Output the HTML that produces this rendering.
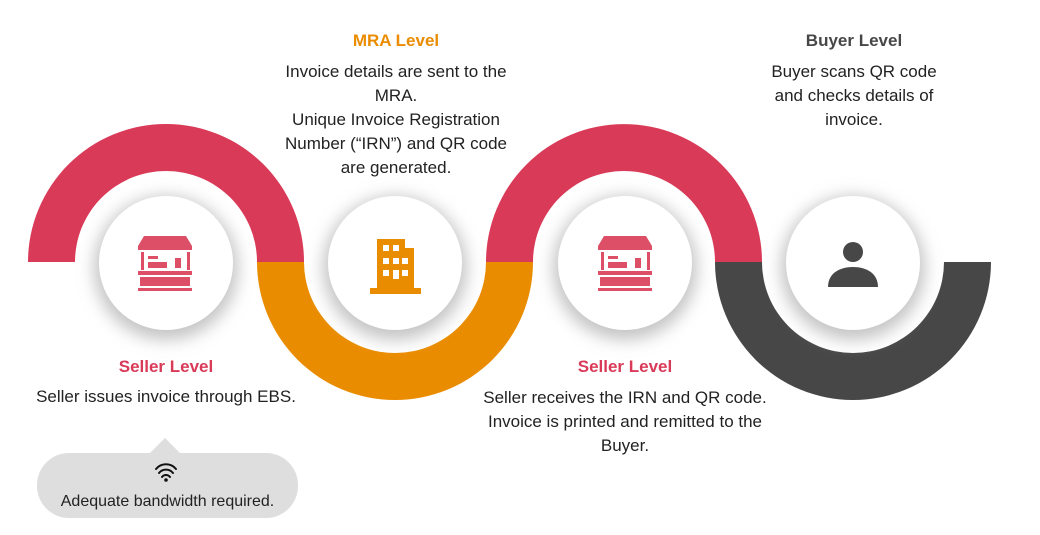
<!DOCTYPE html>
<html><head><meta charset="utf-8"><style>
html,body{margin:0;padding:0;background:#fff;}
body{width:1040px;height:535px;position:relative;overflow:hidden;font-family:"Liberation Sans",Arial,sans-serif;}
.t{position:absolute;text-align:center;font-size:17px;line-height:24px;color:#222;white-space:nowrap;}
.h{font-weight:bold;font-size:17px;}
</style></head><body>
<svg width="1040" height="535" style="position:absolute;left:0;top:0">
<defs>
<filter id="sh" x="-40%" y="-40%" width="180%" height="180%"><feGaussianBlur stdDeviation="8"/></filter>
</defs>
<path d="M28,262 A138,138 0 0 1 304,262 L257,262 A91,91 0 0 0 75,262 Z" fill="#d93a58"/>
<path d="M257,262 A138,138 0 0 0 533,262 L486,262 A91,91 0 0 1 304,262 Z" fill="#ea8c00"/>
<path d="M486,262 A138,138 0 0 1 762,262 L715,262 A91,91 0 0 0 533,262 Z" fill="#d93a58"/>
<path d="M715,262 A138,138 0 0 0 991,262 L944,262 A91,91 0 0 1 762,262 Z" fill="#474747"/>
<g>
<circle cx="166" cy="268" r="72" fill="#c4c4c4" filter="url(#sh)"/>
<circle cx="166" cy="263" r="67" fill="#fff"/>
<circle cx="395" cy="268" r="72" fill="#c4c4c4" filter="url(#sh)"/>
<circle cx="395" cy="263" r="67" fill="#fff"/>
<circle cx="625" cy="268" r="72" fill="#c4c4c4" filter="url(#sh)"/>
<circle cx="625" cy="263" r="67" fill="#fff"/>
<circle cx="853" cy="268" r="72" fill="#c4c4c4" filter="url(#sh)"/>
<circle cx="853" cy="263" r="67" fill="#fff"/>
</g>
<g fill="#dc4f66" transform="translate(138,236)">
<path d="M6,0 H48 L54,10 V14 H0 V10 Z"/>
<rect x="3" y="16" width="3" height="18"/><rect x="49" y="16" width="3" height="18"/>
<rect x="10" y="20" width="10" height="3"/><rect x="10" y="26" width="19" height="6"/><rect x="37" y="22" width="6" height="10"/>
<rect x="0" y="35" width="54" height="4"/><rect x="2" y="41" width="50" height="9"/><rect x="0" y="52" width="54" height="3"/>
</g>
<g fill="#dc4f66" transform="translate(598,236)">
<path d="M6,0 H48 L54,10 V14 H0 V10 Z"/>
<rect x="3" y="16" width="3" height="18"/><rect x="49" y="16" width="3" height="18"/>
<rect x="10" y="20" width="10" height="3"/><rect x="10" y="26" width="19" height="6"/><rect x="37" y="22" width="6" height="10"/>
<rect x="0" y="35" width="54" height="4"/><rect x="2" y="41" width="50" height="9"/><rect x="0" y="52" width="54" height="3"/>
</g>
<g transform="translate(370,239)">
<path d="M7,0 H35 V9 H44 V49 H51 V55 H0 V49 H7 Z" fill="#ea8c00"/>
<g fill="#fff"><rect x="13" y="6" width="6" height="6"/><rect x="23" y="6" width="6" height="6"/>
<rect x="13" y="19" width="6" height="6"/><rect x="23" y="19" width="6" height="6"/><rect x="32" y="19" width="6" height="6"/>
<rect x="13" y="31" width="6" height="6"/><rect x="23" y="31" width="6" height="9"/><rect x="32" y="31" width="6" height="6"/></g>
</g>
<g fill="#474747"><circle cx="853" cy="252" r="10"/><path d="M828,287 C828,273 840,267 853,267 C866,267 878,273 878,287 Z"/></g>
<path d="M150,453 L165,438 L180,453 Z" fill="#dedede"/>
<rect x="37" y="453" width="261" height="65" rx="32" fill="#dedede"/>
<g fill="none" stroke="#111" stroke-width="2" stroke-linecap="round">
<path d="M156,469 A13,13 0 0 1 176,469"/><path d="M159,473 A9,9 0 0 1 173,473"/><path d="M162,477 A5,5 0 0 1 170,477"/>
</g>
<circle cx="166" cy="480" r="1.8" fill="#111"/>
</svg>
<div class="t h" style="left:296px;top:29px;width:200px;color:#ea8c00">MRA Level</div>
<div class="t" style="left:246px;top:60px;width:300px">Invoice details are sent to the<br>MRA.<br>Unique Invoice Registration<br>Number (“IRN”) and QR code<br>are generated.</div>
<div class="t h" style="left:754px;top:29px;width:200px;color:#474747">Buyer Level</div>
<div class="t" style="left:734px;top:60px;width:240px">Buyer scans QR code<br>and checks details of<br>invoice.</div>
<div class="t h" style="left:66px;top:355px;width:200px;color:#d93a58">Seller Level</div>
<div class="t" style="left:16px;top:385px;width:300px">Seller issues invoice through EBS.</div>
<div class="t h" style="left:525px;top:355px;width:200px;color:#d93a58">Seller Level</div>
<div class="t" style="left:450px;top:386px;width:350px">Seller receives the IRN and QR code.<br>Invoice is printed and remitted to the<br>Buyer.</div>
<div class="t" style="left:37px;top:492px;width:261px;font-size:16px;line-height:20px">Adequate bandwidth required.</div>
</body></html>
